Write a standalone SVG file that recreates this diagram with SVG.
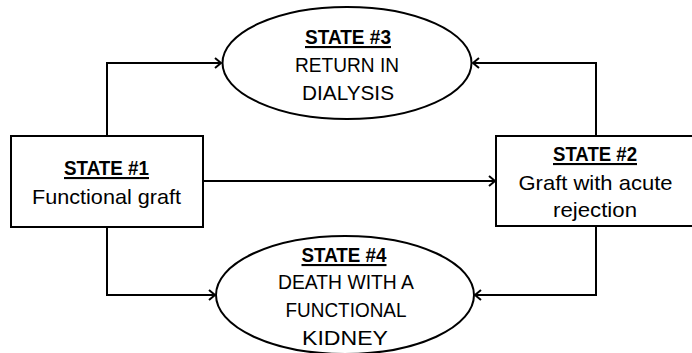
<svg xmlns="http://www.w3.org/2000/svg" width="692" height="353" viewBox="0 0 692 353">
<defs>
<style>
.shape{fill:#fff;stroke:#000;stroke-width:2}
.conn{fill:none;stroke:#000;stroke-width:2}
text{font-family:"Liberation Sans",Arial,sans-serif;font-size:21px;fill:#000;text-anchor:middle}
.h{font-weight:bold;text-decoration:underline}
</style>
<marker id="arr" markerWidth="10" markerHeight="12" refX="8" refY="6" orient="auto" markerUnits="userSpaceOnUse">
<path d="M2,1 L8,6 L2,11" fill="none" stroke="#000" stroke-width="2"/>
</marker>
</defs>
<rect width="692" height="353" fill="#fff"/>
<g id="connectors">
<path class="conn" d="M107,136 V63 H221" marker-end="url(#arr)"/>
<path class="conn" d="M596,136 V63 H473" marker-end="url(#arr)"/>
<path class="conn" d="M203,181 H495" marker-end="url(#arr)"/>
<path class="conn" d="M107,227 V295 H215" marker-end="url(#arr)"/>
<path class="conn" d="M596,227 V295 H475" marker-end="url(#arr)"/>
</g>
<g id="state1">
<rect class="shape" x="11" y="136" width="192" height="91"/>
<text class="h" x="106.5" y="175" textLength="85" lengthAdjust="spacingAndGlyphs">STATE #1</text>
<text x="106.5" y="204" textLength="149" lengthAdjust="spacingAndGlyphs">Functional graft</text>
</g>
<g id="state2">
<rect class="shape" x="496" y="136" width="200" height="90"/>
<text class="h" x="595" y="161" textLength="84" lengthAdjust="spacingAndGlyphs">STATE #2</text>
<text x="595.5" y="190" textLength="154" lengthAdjust="spacingAndGlyphs">Graft with acute</text>
<text x="595" y="217" textLength="84" lengthAdjust="spacingAndGlyphs">rejection</text>
</g>
<g id="state3">
<ellipse class="shape" cx="347" cy="63" rx="124.5" ry="56"/>
<text class="h" x="348" y="44" textLength="86" lengthAdjust="spacingAndGlyphs">STATE #3</text>
<text x="347" y="72" textLength="104" lengthAdjust="spacingAndGlyphs">RETURN IN</text>
<text x="348" y="100" textLength="92" lengthAdjust="spacingAndGlyphs">DIALYSIS</text>
</g>
<g id="state4">
<ellipse class="shape" cx="345" cy="295" rx="129" ry="59"/>
<text class="h" x="344" y="262" textLength="85" lengthAdjust="spacingAndGlyphs">STATE #4</text>
<text x="346" y="289" textLength="136" lengthAdjust="spacingAndGlyphs">DEATH WITH A</text>
<text x="346" y="317" textLength="121" lengthAdjust="spacingAndGlyphs">FUNCTIONAL</text>
<text x="345" y="345" textLength="86" lengthAdjust="spacingAndGlyphs">KIDNEY</text>
</g>
</svg>
